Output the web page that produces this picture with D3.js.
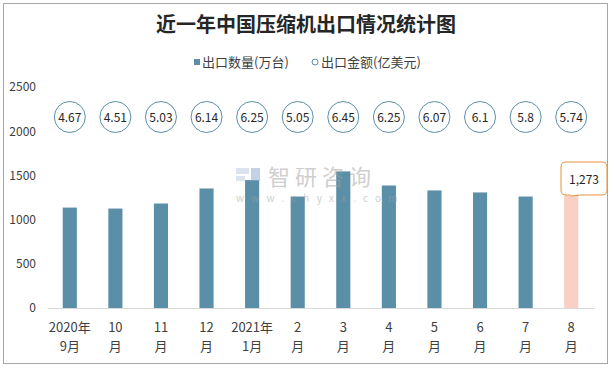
<!DOCTYPE html>
<html><head><meta charset="utf-8">
<script src="https://cdn.jsdelivr.net/npm/d3@7"></script>
<style>body{margin:0;background:#fff}svg{display:block}text{font-family:"Noto Sans CJK SC","Microsoft YaHei",sans-serif}</style>
</head><body>
<svg id="c" width="613" height="369"></svg>
<script>
const categories = [["2020年","9月"],["10","月"],["11","月"],["12","月"],["2021年","1月"],["2","月"],["3","月"],["4","月"],["5","月"],["6","月"],["7","月"],["8","月"]];
const quantity = [1136, 1125, 1182, 1352, 1447, 1261, 1545, 1386, 1330, 1307, 1261, 1273];
const amount = ["4.67","4.51","5.03","6.14","6.25","5.05","6.45","6.25","6.07","6.1","5.8","5.74"];
const yTicks = [0, 500, 1000, 1500, 2000, 2500];

const svg = d3.select("#c");
svg.append("rect").attr("x",3.5).attr("y",3.5).attr("width",604).attr("height",360)
  .attr("fill","#fff").attr("stroke","#a6a6a6").attr("stroke-width",1);

svg.append("text").attr("x",306).attr("y",32).attr("text-anchor","middle")
  .attr("font-size",20).attr("font-weight","bold").attr("fill","#262626")
  .text("近一年中国压缩机出口情况统计图");

// legend
const lg = svg.append("g");
lg.append("rect").attr("x",194).attr("y",59).attr("width",6).attr("height",6).attr("fill","#5b8fa8");
lg.append("text").attr("x",202).attr("y",66.5).attr("font-size",13).attr("fill","#404040").text("出口数量(万台)");
lg.append("circle").attr("cx",315).attr("cy",62).attr("r",3).attr("fill","#fff").attr("stroke","#5b8fa8");
lg.append("text").attr("x",321).attr("y",66.5).attr("font-size",13).attr("fill","#404040").text("出口金额(亿美元)");

const x = d3.scaleBand().domain(d3.range(categories.length)).range([47, 594]).paddingInner(0.69).paddingOuter(0.345);
const y = d3.scaleLinear().domain([0, 2500]).range([308, 87]);

// y axis labels
const ya = svg.append("g").attr("transform","translate(36,0)")
  .call(d3.axisLeft(y).tickValues(yTicks).tickSize(0).tickPadding(0).tickFormat(d3.format("d")));
ya.select(".domain").remove();
ya.selectAll("text").attr("font-size",12).attr("fill","#404040").attr("font-family","'Noto Sans CJK SC',sans-serif");

// bars
svg.append("g").selectAll("rect").data(quantity).join("rect")
  .attr("x",(d,i)=>x(i)).attr("width",x.bandwidth())
  .attr("y",d=>y(d)).attr("height",d=>y(0)-y(d))
  .attr("fill",(d,i)=> i===quantity.length-1 ? "#f8d0c4" : "#5b8fa8");

// watermark (semi-transparent, above bars)
const wm = svg.append("g").attr("opacity",0.5);
wm.append("rect").attr("x",236).attr("y",168).attr("width",13).attr("height",6).attr("fill","#b8c8e0");
wm.append("rect").attr("x",236).attr("y",176).attr("width",9).attr("height",5).attr("fill","#b8c8e0");
wm.append("rect").attr("x",251).attr("y",168).attr("width",9).attr("height",13).attr("fill","#8aa6d0");
wm.append("text").attr("x",268).attr("y",185).attr("font-size",22).attr("fill","#a0a0a0").attr("letter-spacing",5).text("智研咨询");
wm.append("text").attr("x",236).attr("y",202).attr("font-size",10).attr("fill","#a0a0a0").attr("letter-spacing",7.2).text("www.chyxx.com");

// x axis
const xa = svg.append("g").attr("transform","translate(0,308)")
  .call(d3.axisBottom(x).tickSize(0).tickFormat(""));
xa.select(".domain").attr("stroke","#d9d9d9");
const xl = svg.append("g");
categories.forEach((c,i)=>{
  const cx = x(i)+x.bandwidth()/2;
  const t = xl.append("text").attr("text-anchor","middle").attr("font-size",13).attr("fill","#404040");
  t.append("tspan").attr("x",cx).attr("y",332).text(c[0]);
  t.append("tspan").attr("x",cx).attr("y",351).text(c[1]);
});

// amount circles
const cg = svg.append("g");
amount.forEach((a,i)=>{
  const cx = x(i)+x.bandwidth()/2;
  cg.append("circle").attr("cx",cx).attr("cy",117).attr("r",15.5).attr("fill","#fff").attr("stroke","#5b8fa8").attr("stroke-width",1);
  cg.append("text").attr("x",cx).attr("y",121.5).attr("text-anchor","middle").attr("font-size",12).attr("fill","#262626").text(a);
});

// callout for last bar
const li = quantity.length-1;
const lx = x(li)+x.bandwidth()/2, ly = y(quantity[li]);
const bx0 = 561, bx1 = 607, by0 = 162, by1 = 195, r = 5;
const p = d3.path();
p.moveTo(bx0+r, by0); p.lineTo(bx1-r, by0); p.quadraticCurveTo(bx1, by0, bx1, by0+r);
p.lineTo(bx1, by1-r); p.quadraticCurveTo(bx1, by1, bx1-r, by1);
p.lineTo(581, by1); p.lineTo(lx, ly+0.5); p.lineTo(570, by1);
p.lineTo(bx0+r, by1); p.quadraticCurveTo(bx0, by1, bx0, by1-r);
p.lineTo(bx0, by0+r); p.quadraticCurveTo(bx0, by0, bx0+r, by0); p.closePath();
svg.append("path").attr("d",p.toString()).attr("fill","#fff").attr("stroke","#e8913a").attr("stroke-width",1);
svg.append("text").attr("x",(bx0+bx1)/2).attr("y",184).attr("text-anchor","middle").attr("font-size",12).attr("fill","#262626").text(d3.format(",")(quantity[li]));
</script>
</body></html>
